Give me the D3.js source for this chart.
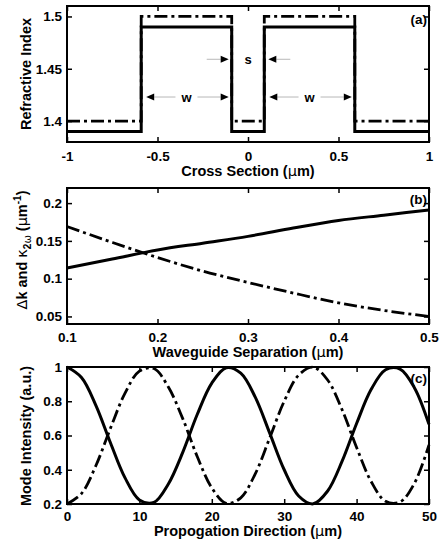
<!DOCTYPE html>
<html><head><meta charset="utf-8">
<script src="https://cdn.jsdelivr.net/npm/d3@7"></script>
<style>
body{margin:0;background:#fff;}
svg{display:block;font-family:"Liberation Sans",Arial,sans-serif;font-weight:bold;}
</style></head>
<body><svg id="c" width="440" height="541"></svg>
<script>
// ---------- DATA ----------
// Panel (a): refractive index profile
const crossSection = [-1, -0.59, -0.59, -0.09, -0.09, 0.09, 0.09, 0.59, 0.59, 1];
const indexSolid   = [1.39, 1.39, 1.49, 1.49, 1.39, 1.39, 1.49, 1.49, 1.39, 1.39];
const indexDashDot = [1.40, 1.40, 1.50, 1.50, 1.40, 1.40, 1.50, 1.50, 1.40, 1.40];
const guideEdges = [-0.59, -0.09, 0.09, 0.59];
const wLevel = 1.423, sLevel = 1.459;
const aXTicks = [-1, -0.5, 0, 0.5, 1];
const aYTicks = [1.4, 1.45, 1.5];

// Panel (b): delta k and kappa vs separation
const separation = [0.1, 0.15, 0.2, 0.25, 0.3, 0.35, 0.4, 0.45, 0.5];
const deltaK     = [0.114, 0.126, 0.138, 0.147, 0.156, 0.167, 0.177, 0.184, 0.191];
const kappa2w    = [0.169, 0.148, 0.128, 0.110, 0.095, 0.081, 0.068, 0.058, 0.050];
const bXTicks = [0.1, 0.2, 0.3, 0.4, 0.5];
const bYTicks = [0.05, 0.1, 0.15, 0.2];

// Panel (c): mode intensity vs propagation
const propagation = [0,2,4,6,8,10,12,14,16,18,20,22,24,26,28,30,32,34,36,38,40,42,44,46,48,50];
const modeSolid   = [1.0,0.939,0.775,0.558,0.354,0.224,0.209,0.317,0.503,0.724,0.906,0.996,0.964,0.824,0.614,0.400,0.247,0.201,0.276,0.450,0.670,0.868,0.984,0.988,0.878,0.665];
const modeDashDot = [0.2,0.261,0.425,0.642,0.846,0.976,0.991,0.883,0.697,0.476,0.294,0.204,0.236,0.376,0.586,0.800,0.953,0.999,0.924,0.750,0.530,0.332,0.216,0.212,0.322,0.545];
const cXTicks = [0, 10, 20, 30, 40, 50];
const cYTicks = [0.2, 0.4, 0.6, 0.8, 1];

// ---------- LAYOUT ----------
const svg = d3.select("#c");
const L = 67, R = 429;
const TICKFS = 13.5, TITLEFS = 14.5;
const DASH = "13,4,3,4";

function panel(cfg){
  const g = svg.append("g");
  const x = d3.scaleLinear().domain(cfg.xd).range([L, R]);
  const y = d3.scaleLinear().domain(cfg.yd).range([cfg.bottom, cfg.top]);
  const fmt = d => String(d);
  const ax = [
    g.append("g").attr("transform",`translate(0,${cfg.bottom})`).call(d3.axisBottom(x).tickValues(cfg.xt).tickFormat(fmt).tickSize(-5).tickPadding(cfg.xpad)),
    g.append("g").attr("transform",`translate(0,${cfg.top})`).call(d3.axisTop(x).tickValues(cfg.xt).tickFormat("").tickSize(-5)),
    g.append("g").attr("transform",`translate(${L},0)`).call(d3.axisLeft(y).tickValues(cfg.yt).tickFormat(fmt).tickSize(-5).tickPadding(5)),
    g.append("g").attr("transform",`translate(${R},0)`).call(d3.axisRight(y).tickValues(cfg.yt).tickFormat("").tickSize(-5))
  ];
  ax.forEach(a=>{
    a.select(".domain").remove();
    a.selectAll("line").attr("stroke","#000").attr("stroke-width",1.5);
    a.selectAll("text").attr("font-size",TICKFS).attr("font-weight","bold").attr("fill","#000")
      .attr("font-family","Liberation Sans, Arial, sans-serif");
  });
  return {g,x,y};
}

function frame(p, cfg){
  p.g.append("rect").attr("x",L).attr("y",cfg.top).attr("width",R-L).attr("height",cfg.bottom-cfg.top)
    .attr("fill","none").attr("stroke","#000").attr("stroke-width",2);
}

function lineOf(p, xs, ys, dashed, curve){
  const ln = d3.line().x(i=>p.x(xs[i])).y(i=>p.y(ys[i]));
  if(curve) ln.curve(curve);
  p.g.append("path").attr("d", ln(d3.range(xs.length)))
    .attr("fill","none").attr("stroke","#000").attr("stroke-width",dashed?2.8:3)
    .attr("stroke-dasharray", dashed?DASH:null).attr("stroke-linejoin","miter");
}

function xTitle(p, cfg){
  return p.g.append("text").attr("x",(L+R)/2).attr("y",cfg.titleY).attr("text-anchor","middle")
    .attr("font-size",TITLEFS).attr("fill","#000");
}
function yTitle(p, cfg){
  return p.g.append("text").attr("transform",`translate(${cfg.ytx},${cfg.yty}) rotate(-90)`)
    .attr("text-anchor","middle").attr("font-size",TITLEFS).attr("fill","#000");
}
function tag(p, cfg, s){
  p.g.append("text").attr("x",R-2).attr("y",cfg.tagY).attr("text-anchor","end")
    .attr("font-size",13.5).attr("fill","#000").text(s);
}
function mu(t){
  t.append("tspan").attr("font-family","DejaVu Sans").attr("font-weight","normal").text("μ");
}

// ---------- PANEL A ----------
const ca = {xd:[-1,1], yd:[1.38,1.51], top:6, bottom:142, xt:aXTicks, yt:aYTicks, xpad:9, titleY:176, ytx:31, yty:74, tagY:24};
const pa = panel(ca);
lineOf(pa, crossSection, indexDashDot, true);
lineOf(pa, crossSection, indexSolid, false);
frame(pa, ca);
function arrowHead(g, tipX, yy, dir){
  g.append("path").attr("d",`M${tipX},${yy} L${tipX-dir*8},${yy-3.5} L${tipX-dir*8},${yy+3.5} Z`).attr("fill","#000");
}
function grayLine(g, x1, x2, yy){
  g.append("line").attr("x1",x1).attr("x2",x2).attr("y1",yy).attr("y2",yy).attr("stroke","#c8c8c8").attr("stroke-width",1.3);
}
const ann = pa.g.append("g");
const yw = pa.y(wLevel), ys = pa.y(sLevel);
[[guideEdges[0],guideEdges[1]],[guideEdges[2],guideEdges[3]]].forEach(([e0,e1])=>{
  const x0 = pa.x(e0)+5, x1 = pa.x(e1)-3, xm = pa.x((e0+e1)/2);
  grayLine(ann, x0+8, xm-11, yw); grayLine(ann, xm+11, x1-8, yw);
  arrowHead(ann, x0, yw, -1); arrowHead(ann, x1, yw, 1);
  ann.append("text").attr("x",xm).attr("y",yw+5).attr("text-anchor","middle").attr("font-size",13).text("w");
});
{
  const xl = pa.x(guideEdges[1])-3, xr = pa.x(guideEdges[2])+4, xm = pa.x(0);
  grayLine(ann, xl-22, xl-8, ys); arrowHead(ann, xl, ys, 1);
  grayLine(ann, xr+8, xr+22, ys); arrowHead(ann, xr, ys, -1);
  ann.append("text").attr("x",xm).attr("y",ys+5).attr("text-anchor","middle").attr("font-size",13).text("s");
}
tag(pa, ca, "(a)");
{
  const t = xTitle(pa, ca);
  t.append("tspan").text("Cross Section ("); mu(t); t.append("tspan").text("m)");
  yTitle(pa, ca).text("Refractive Index");
}

// ---------- PANEL B ----------
const cb = {xd:[0.1,0.5], yd:[0.04,0.22], top:188, bottom:324, xt:bXTicks, yt:bYTicks, xpad:8, titleY:357, ytx:27, yty:250, tagY:204};
const pb = panel(cb);
lineOf(pb, separation, kappa2w, true, d3.curveMonotoneX);
lineOf(pb, separation, deltaK, false, d3.curveMonotoneX);
frame(pb, cb);
tag(pb, cb, "(b)");
{
  const t = xTitle(pb, cb);
  t.append("tspan").text("Waveguide Separation ("); mu(t); t.append("tspan").text("m)");
  const yt = yTitle(pb, cb);
  yt.append("tspan").attr("font-weight","normal").attr("font-family","DejaVu Sans").text("Δ");
  yt.append("tspan").text("k and ");
  yt.append("tspan").attr("font-weight","normal").attr("font-family","DejaVu Sans").text("κ");
  yt.append("tspan").attr("font-size",10).attr("dy",4).text("2");
  yt.append("tspan").attr("font-size",10).attr("font-weight","normal").attr("font-family","DejaVu Sans").text("ω");
  yt.append("tspan").attr("dy",-4).text(" (");
  mu(yt);
  yt.append("tspan").text("m");
  yt.append("tspan").attr("font-size",10).attr("dy",-6).text("-1");
  yt.append("tspan").attr("dy",6).text(")");
}

// ---------- PANEL C ----------
const cc = {xd:[0,50], yd:[0.2,1], top:367, bottom:504, xt:cXTicks, yt:cYTicks, xpad:7, titleY:536, ytx:31, yty:436, tagY:383};
const pc = panel(cc);
lineOf(pc, propagation, modeDashDot, true, d3.curveCatmullRom);
lineOf(pc, propagation, modeSolid, false, d3.curveCatmullRom);
frame(pc, cc);
tag(pc, cc, "(c)");
{
  const t = xTitle(pc, cc);
  t.append("tspan").text("Propogation Direction ("); mu(t); t.append("tspan").text("m)");
  yTitle(pc, cc).text("Mode Intensity (a.u.)");
}
</script></body></html>
